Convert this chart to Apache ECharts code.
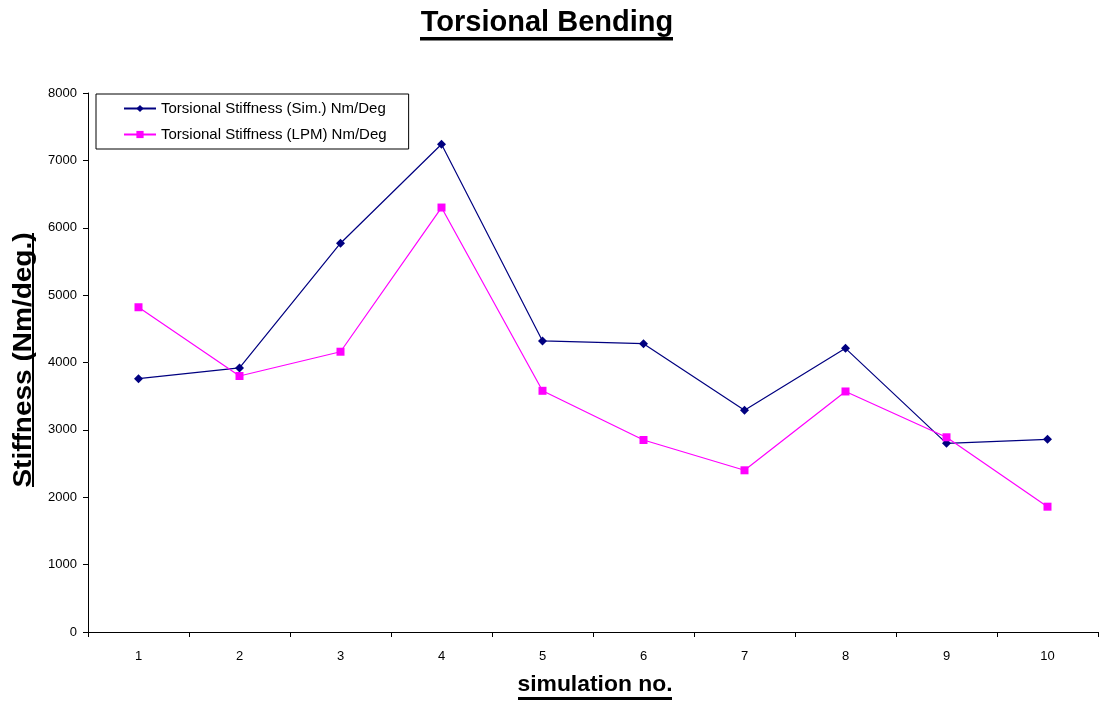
<!DOCTYPE html>
<html>
<head>
<meta charset="utf-8">
<title>Torsional Bending</title>
<script src="https://cdn.jsdelivr.net/npm/echarts@6/dist/echarts.min.js"></script>
<style>
  html, body { margin: 0; padding: 0; background: #ffffff; }
  #chart { width: 1099px; height: 704px; }
</style>
</head>
<body>
<div id="chart"></div>
<script>
// Simulation runs along the x axis
const categories = ['1', '2', '3', '4', '5', '6', '7', '8', '9', '10'];

// Torsional stiffness, Nm/Deg
const simStiffness = [3760, 3920, 5770, 7240, 4320, 4280, 3290, 4210, 2800, 2860];
const lpmStiffness = [4820, 3800, 4160, 6300, 3580, 2850, 2400, 3570, 2890, 1860];

const seriesNames = [
  'Torsional Stiffness (Sim.) Nm/Deg',
  'Torsional Stiffness (LPM) Nm/Deg'
];

const FONT = '"Liberation Sans", Arial, sans-serif';

const chart = echarts.init(document.getElementById('chart'), null, { renderer: 'canvas' });

chart.setOption({
  backgroundColor: '#ffffff',
  animation: false,
  legend: {
    orient: 'vertical',
    left: 96,
    top: 94,
    padding: [6, 22, 6, 27],
    itemGap: 9,
    itemWidth: 32,
    itemHeight: 9,
    borderColor: '#000',
    borderWidth: 1,
    backgroundColor: '#fff',
    textStyle: { fontFamily: FONT, fontSize: 15, color: '#000', lineHeight: 17 },
    data: seriesNames
  },
  grid: { left: 88, right: 1, top: 93, bottom: 72, containLabel: false },
  xAxis: {
    type: 'category',
    data: categories,
    boundaryGap: true,
    axisLine: { lineStyle: { color: '#000', width: 1 } },
    axisTick: { show: true, length: 5, lineStyle: { color: '#000' } },
    axisLabel: { fontFamily: FONT, fontSize: 13, color: '#000', margin: 18 },
    splitLine: { show: false }
  },
  yAxis: {
    type: 'value',
    min: 0,
    max: 8000,
    interval: 1000,
    axisLine: { show: true, lineStyle: { color: '#000', width: 1 } },
    axisTick: { show: true, length: 5, lineStyle: { color: '#000' } },
    axisLabel: {
      fontFamily: FONT, fontSize: 13, color: '#000', margin: 11,
      formatter: (v) => String(v)
    },
    splitLine: { show: false }
  },
  graphic: [
    // chart title with underline
    {
      type: 'text',
      x: 547, y: 23,
      style: {
        text: 'Torsional Bending',
        fontFamily: FONT, fontSize: 29, fontWeight: 'bold', fill: '#000',
        align: 'center', verticalAlign: 'middle'
      }
    },
    { type: 'rect', left: 420, top: 37, shape: { width: 253, height: 3.5 }, style: { fill: '#000' } },
    // y axis name, rotated, with underline
    {
      type: 'text',
      x: 24, y: 360,
      rotation: Math.PI / 2,
      scaleX: 1.12,
      style: {
        text: 'Stiffness (Nm/deg.)',
        fontFamily: FONT, fontSize: 25, fontWeight: 'bold', fill: '#000',
        align: 'center', verticalAlign: 'middle'
      }
    },
    { type: 'rect', left: 32, top: 233, shape: { width: 2, height: 254 }, style: { fill: '#000' } },
    // x axis name with underline
    {
      type: 'text',
      x: 595, y: 685,
      scaleX: 1.04,
      style: {
        text: 'simulation no.',
        fontFamily: FONT, fontSize: 22, fontWeight: 'bold', fill: '#000',
        align: 'center', verticalAlign: 'middle'
      }
    },
    { type: 'rect', left: 518, top: 697, shape: { width: 154, height: 3 }, style: { fill: '#000' } }
  ],
  series: [
    {
      name: seriesNames[0],
      type: 'line',
      data: simStiffness,
      symbol: 'diamond',
      symbolSize: 9,
      lineStyle: { color: '#000080', width: 1.2 },
      itemStyle: { color: '#000080' }
    },
    {
      name: seriesNames[1],
      type: 'line',
      data: lpmStiffness,
      symbol: 'rect',
      symbolSize: 8,
      lineStyle: { color: '#ff00ff', width: 1.2 },
      itemStyle: { color: '#ff00ff' }
    }
  ]
});
</script>
</body>
</html>
